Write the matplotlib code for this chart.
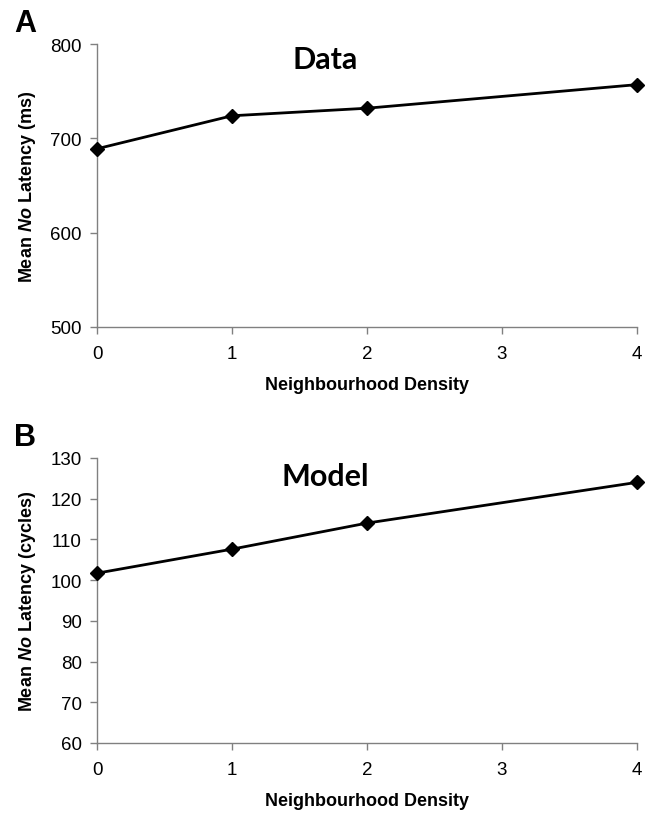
import matplotlib.pyplot as plt

plt.rcParams['font.family'] = 'Liberation Sans'
plt.rcParams['mathtext.fontset'] = 'custom'
plt.rcParams['mathtext.rm'] = 'Liberation Sans:bold'
plt.rcParams['mathtext.it'] = 'Liberation Sans:italic:bold'
plt.rcParams['mathtext.bf'] = 'Liberation Sans:bold'

# neighbourhood density values
density = [0, 1, 2, 4]
# mean "no" latency, behavioural data (ms)
data_ms = [689, 724, 732, 757]
# mean "no" latency, model (cycles)
model_cycles = [101.7, 107.6, 114, 124]

fig = plt.figure(figsize=(6.52, 8.2), dpi=100)

panels = [
    ([0.1488, 0.600, 0.828, 0.345], density, data_ms, 'Data', 0.947,
     r'Mean $\mathit{No}$ Latency (ms)', (500, 800), [500, 600, 700, 800], 'A'),
    ([0.1488, 0.0927, 0.828, 0.3476], density, model_cycles, 'Model', 0.937,
     r'Mean $\mathit{No}$ Latency (cycles)', (60, 130), list(range(60, 131, 10)), 'B'),
]

for rect, x, y, title, ty, ylab, ylim, yticks, letter in panels:
    ax = fig.add_axes(rect)
    ax.plot(x, y, color='black', lw=2.0, marker='D', ms=7, clip_on=False, zorder=3)
    ax.set_xlim(0, 4)
    ax.set_ylim(*ylim)
    ax.set_xticks([0, 1, 2, 3, 4])
    ax.set_yticks(yticks)
    for s in ['top', 'right']:
        ax.spines[s].set_visible(False)
    for s in ['left', 'bottom']:
        ax.spines[s].set_color('#808080')
        ax.spines[s].set_linewidth(1.0)
    ax.tick_params(axis='both', colors='#808080', length=5, width=1.0,
                   labelcolor='black', labelsize=13.5)
    ax.tick_params(axis='x', pad=8)
    ax.tick_params(axis='y', pad=6)
    ax.set_xlabel('Neighbourhood Density', fontsize=13, fontweight='bold', labelpad=10)
    ax.set_ylabel(ylab, fontsize=13, fontweight='bold', labelpad=9)
    ax.text(0.422, ty, title, transform=ax.transAxes, ha='center', va='center',
            fontsize=22, fontweight='bold', family='Lato')
    fig.text(0.022, ax.get_position().y1 + 0.026, letter, fontsize=22,
             fontweight='bold', ha='left', va='center')

fig.savefig('out.png', dpi=100)
